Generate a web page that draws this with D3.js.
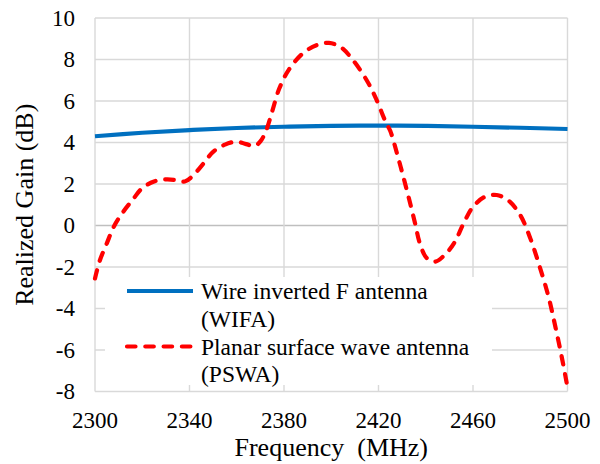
<!DOCTYPE html>
<html>
<head>
<meta charset="utf-8">
<script src="https://cdn.jsdelivr.net/npm/d3@7"></script>
</head>
<body style="margin:0;background:#fff">
<svg id="chart" width="600" height="464"></svg>
<script>
// Realized gain versus frequency for the two antennas
const freqTicks = [2300, 2340, 2380, 2420, 2460, 2500];
const gainTicks = [-8, -6, -4, -2, 0, 2, 4, 6, 8, 10];

const wifaFreq = [2300, 2320, 2340, 2360, 2380, 2400, 2420, 2440, 2460, 2480, 2500];
const wifaGain = [4.3, 4.47, 4.6, 4.7, 4.76, 4.8, 4.81, 4.8, 4.76, 4.71, 4.65];

const pswaFreq = [2300, 2302, 2305, 2308, 2312, 2316, 2320, 2325, 2330, 2335, 2338,
  2341, 2346, 2350, 2355, 2360, 2364, 2367.5, 2370, 2372.5, 2375, 2378, 2382, 2388,
  2394, 2399, 2404, 2409, 2415, 2419, 2423, 2425, 2428, 2430.5, 2433, 2435.5, 2437.5,
  2440.5, 2444, 2448, 2452, 2456, 2460, 2465, 2470, 2475, 2480, 2484, 2488, 2492,
  2495, 2497.5, 2500];
const pswaGain = [-2.55, -1.7, -0.86, -0.05, 0.67, 1.25, 1.8, 2.12, 2.22, 2.18, 2.12,
  2.35, 3.0, 3.55, 3.9, 4.04, 3.92, 3.83, 4.05, 4.6, 5.5, 6.6, 7.5, 8.3,
  8.7, 8.8, 8.6, 8.0, 7.0, 6.1, 5.0, 4.55, 3.4, 2.35, 1.25, 0.1, -0.86,
  -1.58, -1.74, -1.42, -0.85, 0.1, 0.9, 1.38, 1.47, 1.2, 0.5, -0.54, -1.9, -3.45,
  -4.95, -6.3, -7.8];

const seriesNames = [["Wire inverted F antenna", "(WIFA)"], ["Planar surface wave antenna", "(PSWA)"]];

const FONT = "'Liberation Serif'";

const svg = d3.select("#chart");
const plot = { left: 95, right: 567.5, top: 18, bottom: 391.5 };

const x = d3.scaleLinear().domain([2300, 2500]).range([plot.left, plot.right]);
const y = d3.scaleLinear().domain([-8, 10]).range([plot.bottom, plot.top]);

// gridlines
const grid = svg.append("g");
grid.selectAll("line.h").data(gainTicks).join("line")
  .attr("x1", plot.left).attr("x2", plot.right)
  .attr("y1", d => y(d)).attr("y2", d => y(d))
  .attr("stroke", d => d === 0 ? "#bfbfbf" : "#d9d9d9")
  .attr("stroke-width", 1.4);
grid.selectAll("line.v").data(freqTicks).join("line")
  .attr("x1", d => x(d)).attr("x2", d => x(d))
  .attr("y1", plot.top).attr("y2", plot.bottom)
  .attr("stroke", "#d9d9d9")
  .attr("stroke-width", 1.4);

// tick labels
svg.append("g").selectAll("text").data(gainTicks).join("text")
  .attr("x", 75).attr("y", d => y(d)).attr("dy", "0.34em")
  .attr("text-anchor", "end").attr("fill", "#000")
  .style("font-size", "23px").style("font-family", FONT)
  .text(d => d);
svg.append("g").selectAll("text").data(freqTicks).join("text")
  .attr("x", d => x(d)).attr("y", 428)
  .attr("text-anchor", "middle").attr("fill", "#000")
  .style("font-size", "23px").style("font-family", FONT)
  .text(d => d);

// axis titles
svg.append("text")
  .attr("x", (plot.left + plot.right) / 2).attr("y", 456)
  .attr("text-anchor", "middle")
  .style("font-size", "26px").style("font-family", FONT).style("white-space", "pre")
  .text("Frequency  (MHz)");
svg.append("text")
  .attr("transform", `translate(33,${(plot.top + plot.bottom) / 2}) rotate(-90)`)
  .attr("text-anchor", "middle")
  .style("font-size", "26px").style("font-family", FONT)
  .text("Realized Gain (dB)");

// data lines
const line = d3.line().x(d => x(d[0])).y(d => y(d[1])).curve(d3.curveCatmullRom.alpha(0.5));

svg.append("path")
  .datum(d3.zip(wifaFreq, wifaGain))
  .attr("d", line)
  .attr("fill", "none").attr("stroke", "#0070c0").attr("stroke-width", 4.2);

svg.append("path")
  .datum(d3.zip(pswaFreq, pswaGain))
  .attr("d", line)
  .attr("fill", "none").attr("stroke", "#ff0000").attr("stroke-width", 4.2)
  .attr("stroke-dasharray", "8.5,9.8").attr("stroke-linecap", "round");

// legend
const legend = svg.append("g");
legend.append("rect")
  .attr("x", 105).attr("y", 277).attr("width", 387).attr("height", 108)
  .attr("fill", "#fff");
legend.append("line")
  .attr("x1", 127).attr("x2", 193).attr("y1", 291).attr("y2", 291)
  .attr("stroke", "#0070c0").attr("stroke-width", 4.2);
legend.append("line")
  .attr("x1", 127).attr("x2", 193).attr("y1", 346.5).attr("y2", 346.5)
  .attr("stroke", "#ff0000").attr("stroke-width", 4.2)
  .attr("stroke-dasharray", "8.5,9.8").attr("stroke-linecap", "round");
const legendBase = [[299, 326.7], [355, 382.3]];
seriesNames.forEach((lines, i) => {
  lines.forEach((t, j) => {
    legend.append("text")
      .attr("x", 201).attr("y", legendBase[i][j]).attr("fill", "#000")
      .style("font-size", "23.5px").style("font-family", FONT)
      .text(t);
  });
});
</script>
</body>
</html>
